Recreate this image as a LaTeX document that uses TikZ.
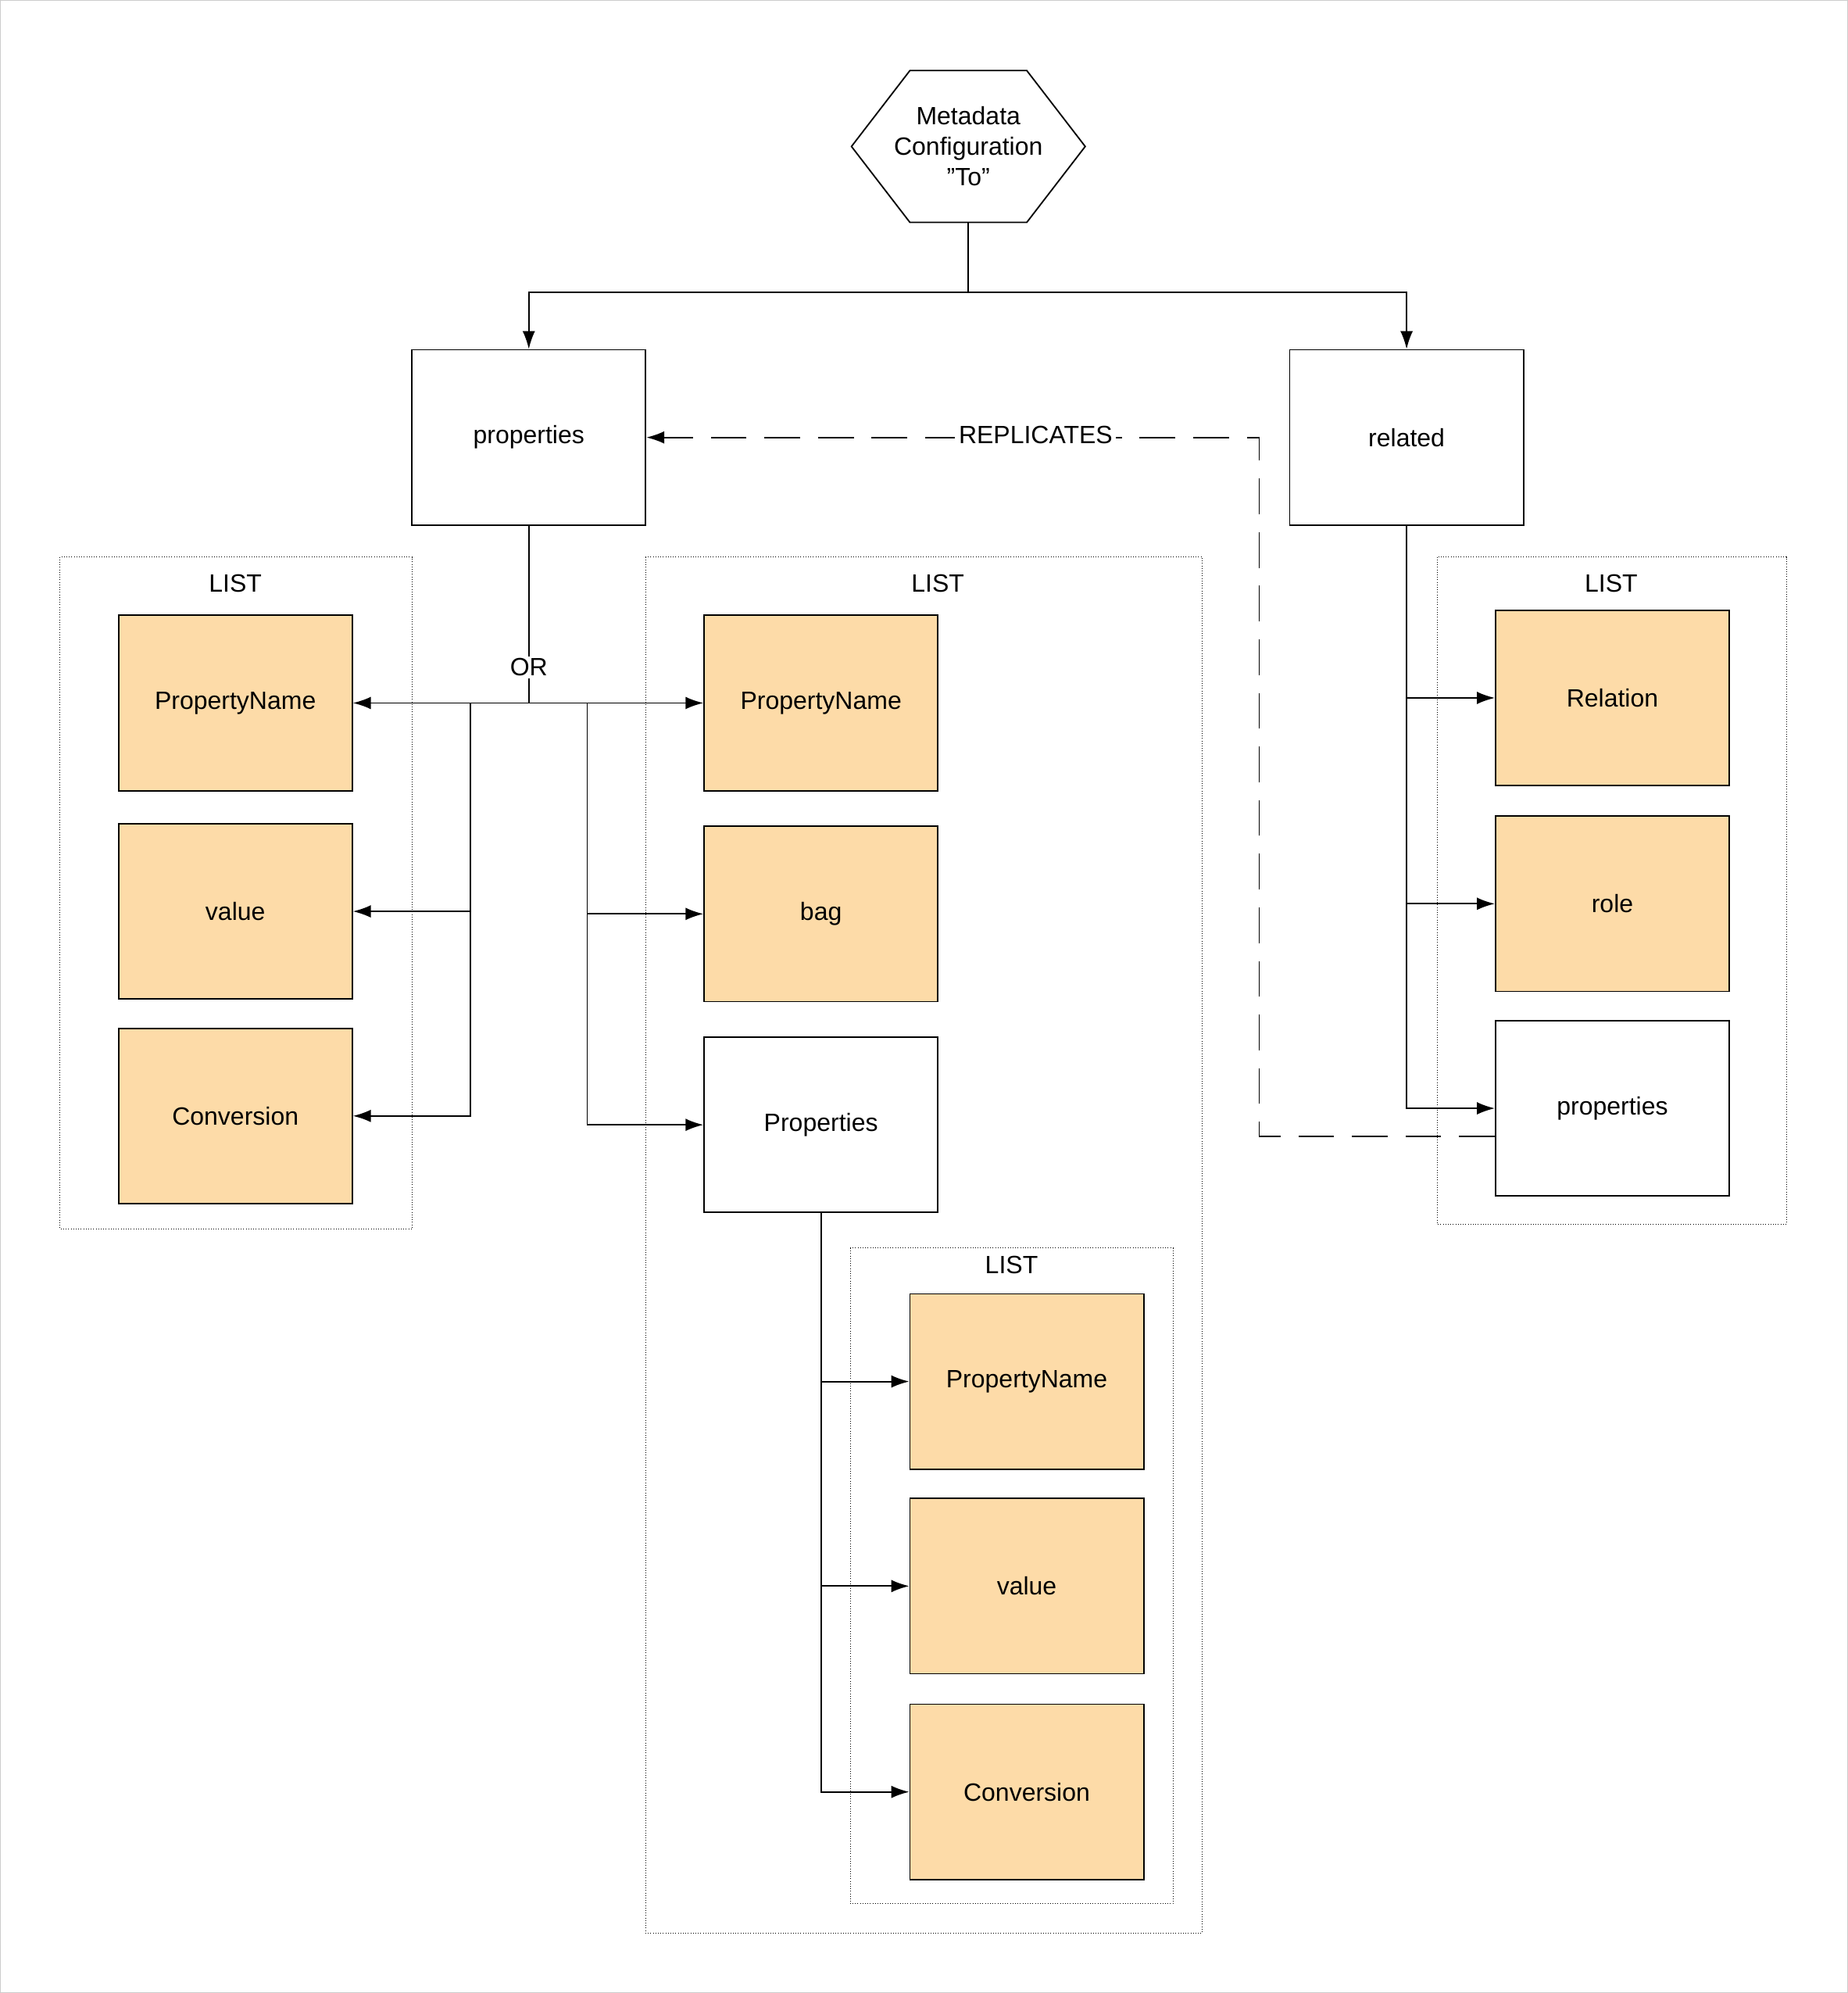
\documentclass[tikz,border=0pt]{standalone}
\usepackage{fontspec}
\setmainfont{Liberation Sans}
\usetikzlibrary{shapes.geometric,arrows.meta}
\definecolor{boxfill}{HTML}{FDDBA8}
\begin{document}
\begin{tikzpicture}[x=0.025cm,y=-0.025cm,font=\fontsize{14}{17}\selectfont,
  box/.style={draw,thick,minimum width=184*0.025cm,minimum height=138*0.025cm,inner sep=0pt},
  fbox/.style={box,fill=boxfill},
  list/.style={draw,densely dotted},
  link/.style={thick,-{Latex[length=10pt,width=7pt]}}]
\draw[gray!40] (0,0) rectangle (1454,1568);
% lists
\draw[list] (47,438) rectangle (324,967);
\node (l1) at (185,459) {LIST};
\draw[list] (508,438) rectangle (946,1521);
\node (l2) at (738,459) {LIST};
\draw[list] (669,982) rectangle (923,1498);
\node (l3) at (796,995) {LIST};
\draw[list] (1131,438) rectangle (1406,963);
\node (l4) at (1268,459) {LIST};
% nodes
\node[draw,thick,regular polygon,regular polygon sides=6,minimum size=184*0.025cm,inner sep=0pt,align=center,yscale=0.75] (meta) at (762,115) {};
\node[align=center] at (meta) {Metadata\\Configuration\\"To"};
\node[box] (props) at (416,344) {properties};
\node[box] (rel) at (1107,344) {related};
\node[fbox] (lname) at (185,553) {PropertyName};
\node[fbox] (lval) at (185,717) {value};
\node[fbox] (lconv) at (185,878) {Conversion};
\node[fbox] (mname) at (646,553) {PropertyName};
\node[fbox] (mbag) at (646,719) {bag};
\node[box] (mprops) at (646,885) {Properties};
\node[fbox] (iname) at (808,1087) {PropertyName};
\node[fbox] (ival) at (808,1248) {value};
\node[fbox] (iconv) at (808,1410) {Conversion};
\node[fbox] (rrel) at (1269,549) {Relation};
\node[fbox] (rrole) at (1269,711) {role};
\node[box] (rprops) at (1269,872) {properties};
% connectors
\coordinate (top) at (762,230);
\draw[thick] (meta.south) -- (top);
\draw[link] (top) -| (props.north);
\draw[link] (top) -| (rel.north);
\coordinate (orj) at (416,553);
\draw[thick] (props.south) -- (orj);
\node[fill=white,inner sep=1pt] (or) at (416,525) {OR};
\draw[link] (orj) -- (lname.east);
\draw[link] (orj) -- (mname.west);
\coordinate (lj) at (370,553);
\coordinate (mj) at (462,553);
\draw[link] (lj) |- (lval.east);
\draw[link] (lj) |- (lconv.east);
\draw[link] (mj) |- (mbag.west);
\draw[link] (mj) |- (mprops.west);
\draw[link] (mprops.south) |- (iname.west);
\draw[link] (mprops.south) |- (ival.west);
\draw[link] (mprops.south) |- (iconv.west);
\draw[link] (rel.south) |- (rrel.west);
\draw[link] (rel.south) |- (rrole.west);
\draw[link] (rel.south) |- (rprops.west);
\coordinate (dj) at (991,894);
\coordinate (dk) at (991,344);
\draw[thick,dash pattern=on 20pt off 10pt,-{Latex[length=10pt,width=7pt]}] (rprops.west |- dj) -- (dj) -- (dk) -- (props.east);
\node[fill=white,inner sep=2pt] (rep) at (815,342) {REPLICATES};
\end{tikzpicture}
\end{document}
